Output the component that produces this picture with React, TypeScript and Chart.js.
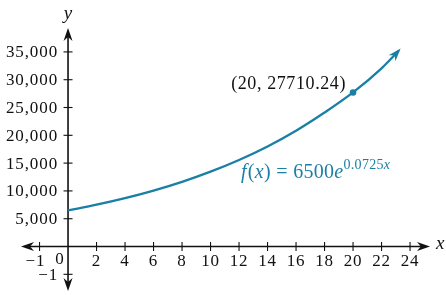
import { useEffect, useRef } from 'react';
import { Chart, registerables } from 'chart.js';

Chart.register(...registerables);

// Curve values (x, f(x))
const curveX = [0, 2, 4, 6, 8, 10, 12, 14, 16, 18, 20, 22, 23.2];
const curveY = [6500, 7520, 8700, 10060, 11630, 13460, 15560, 18000, 20820, 24090, 27710, 32050, 35200];

// Highlighted point
const markX = [20];
const markY = [27710.24];
const markLabel = '(20, 27710.24)';

// Axis ticks
const xTickValues = [2, 4, 6, 8, 10, 12, 14, 16, 18, 20, 22, 24];
const yTickValues = [5000, 10000, 15000, 20000, 25000, 30000, 35000];
const yTickLabels = ['5,000', '10,000', '15,000', '20,000', '25,000', '30,000', '35,000'];
const xNegTick = { value: -2, label: '\u22121' };
const yNegTick = { value: -5000, label: '\u22121' };

const X_MIN = -3.3;
const X_MAX = 25.4;
const Y_MIN = -8000;
const Y_MAX = 39300;

const TEAL = '#1a7fa4';
const INK = '#111111';
const SERIF = '"Liberation Serif", "Times New Roman", serif';

function arrowHead(ctx: CanvasRenderingContext2D, x: number, y: number, angle: number, len: number, half: number, color: string) {
  ctx.save();
  ctx.translate(x, y);
  ctx.rotate(angle);
  ctx.fillStyle = color;
  ctx.beginPath();
  ctx.moveTo(0, 0);
  ctx.lineTo(-len, -half);
  ctx.lineTo(-len * 0.7, 0);
  ctx.lineTo(-len, half);
  ctx.closePath();
  ctx.fill();
  ctx.restore();
}

const axesPlugin = {
  id: 'axesPlugin',
  beforeDatasetsDraw(chart: any) {
    const ctx: CanvasRenderingContext2D = chart.ctx;
    const xs = chart.scales.x;
    const ys = chart.scales.y;
    const x0 = xs.getPixelForValue(0);
    const y0 = ys.getPixelForValue(0);
    const left = xs.getPixelForValue(X_MIN);
    const right = xs.getPixelForValue(X_MAX);
    const top = ys.getPixelForValue(Y_MAX);
    const bottom = ys.getPixelForValue(Y_MIN);
    ctx.save();
    ctx.strokeStyle = INK;
    ctx.lineWidth = 1.6;
    // x axis
    ctx.beginPath();
    ctx.moveTo(left + 6, y0);
    ctx.lineTo(right - 6, y0);
    ctx.stroke();
    // y axis
    ctx.beginPath();
    ctx.moveTo(x0, top + 6);
    ctx.lineTo(x0, bottom - 6);
    ctx.stroke();
    arrowHead(ctx, right, y0, 0, 13, 4.5, INK);
    arrowHead(ctx, left, y0, Math.PI, 13, 4.5, INK);
    arrowHead(ctx, x0, top, -Math.PI / 2, 13, 4.5, INK);
    arrowHead(ctx, x0, bottom, Math.PI / 2, 13, 4.5, INK);

    ctx.lineWidth = 1.1;
    ctx.fillStyle = INK;
    ctx.font = `17px ${SERIF}`;
    (ctx as any).letterSpacing = '0.9px';
    // x ticks
    ctx.textAlign = 'center';
    ctx.textBaseline = 'middle';
    const xt = [...xTickValues.map((v) => ({ value: v, label: String(v) })), xNegTick];
    xt.forEach((t) => {
      const px = xs.getPixelForValue(t.value);
      ctx.beginPath();
      ctx.moveTo(px, y0 - 4.5);
      ctx.lineTo(px, y0 + 4.5);
      ctx.stroke();
      ctx.fillText(t.label, t.value < 0 ? px - 4 : px, y0 + 15);
    });
    ctx.fillText('0', x0 - 8, y0 + 13);
    // y ticks
    ctx.textAlign = 'right';
    const yt = [...yTickValues.map((v, i) => ({ value: v, label: yTickLabels[i] })), yNegTick];
    yt.forEach((t) => {
      const py = ys.getPixelForValue(t.value);
      ctx.beginPath();
      ctx.moveTo(x0 - 4.5, py);
      ctx.lineTo(x0 + 4.5, py);
      ctx.stroke();
      ctx.fillText(t.label, x0 - 10, py + 1);
    });
    // axis names
    ctx.font = `italic 19px ${SERIF}`;
    (ctx as any).letterSpacing = '0px';
    ctx.textAlign = 'center';
    ctx.fillText('y', x0, 14);
    ctx.textAlign = 'left';
    ctx.fillText('x', right + 6, y0 - 3);
    ctx.restore();
  },
  afterDatasetsDraw(chart: any) {
    const ctx: CanvasRenderingContext2D = chart.ctx;
    const xs = chart.scales.x;
    const ys = chart.scales.y;
    const n = curveX.length;
    const ex = xs.getPixelForValue(curveX[n - 1]);
    const ey = ys.getPixelForValue(curveY[n - 1]);
    const px = xs.getPixelForValue(curveX[n - 2] + 0.6);
    const py = ys.getPixelForValue(curveY[n - 2] + (curveY[n - 1] - curveY[n - 2]) * 0.45);
    const ang = Math.atan2(ey - py, ex - px);
    arrowHead(ctx, ex + Math.cos(ang) * 3, ey + Math.sin(ang) * 3, ang, 13, 4.5, TEAL);

    ctx.save();
    // point label
    const mx = xs.getPixelForValue(markX[0]);
    const my = ys.getPixelForValue(markY[0]);
    ctx.fillStyle = INK;
    ctx.font = `18px ${SERIF}`;
    (ctx as any).letterSpacing = '0.6px';
    ctx.textAlign = 'right';
    ctx.textBaseline = 'middle';
    ctx.fillText(markLabel, mx - 7, my - 8);

    // equation
    ctx.fillStyle = TEAL;
    ctx.textAlign = 'left';
    ctx.textBaseline = 'alphabetic';
    let x = 241;
    const base = 178;
    const parts: [string, string, number][] = [
      ['f', 'italic 20px', 0],
      ['(', '20px', 0],
      ['x', 'italic 20px', 0],
      [')', '20px', 0],
      [' = 6500', '20px', 0],
      ['e', 'italic 20px', 0],
      ['0.0725', '14px', -9],
      ['x', 'italic 14px', -9],
    ];
    (ctx as any).letterSpacing = '0.3px';
    parts.forEach(([t, f, dy]) => {
      ctx.font = `${f} ${SERIF}`;
      ctx.fillText(t, x, base + dy);
      x += ctx.measureText(t).width + (t === 'f' ? 1 : 0);
    });
    ctx.restore();
  },
};

export default function App() {
  const ref = useRef<HTMLCanvasElement>(null);
  useEffect(() => {
    document.body.style.margin = '0';
    const chart = new Chart(ref.current!, {
      type: 'line',
      data: {
        datasets: [
          {
            type: 'line',
            data: curveX.map((x, i) => ({ x, y: curveY[i] })),
            borderColor: TEAL,
            borderWidth: 2.3,
            pointRadius: 0,
            cubicInterpolationMode: 'monotone',
            fill: false,
          },
          {
            type: 'scatter',
            data: markX.map((x, i) => ({ x, y: markY[i] })),
            pointRadius: 3.3,
            backgroundColor: TEAL,
            borderColor: TEAL,
            borderWidth: 0,
          },
        ],
      } as any,
      options: {
        responsive: false,
        animation: false,
        layout: { padding: { left: 21, right: 16, top: 28, bottom: 0 } },
        scales: {
          x: { type: 'linear', min: X_MIN, max: X_MAX, display: false },
          y: { type: 'linear', min: Y_MIN, max: Y_MAX, display: false },
        },
        plugins: { legend: { display: false }, tooltip: { enabled: false } },
      } as any,
      plugins: [axesPlugin],
    });
    return () => chart.destroy();
  }, []);
  return <canvas ref={ref} width={446} height={295} style={{ display: 'block' }} />;
}
